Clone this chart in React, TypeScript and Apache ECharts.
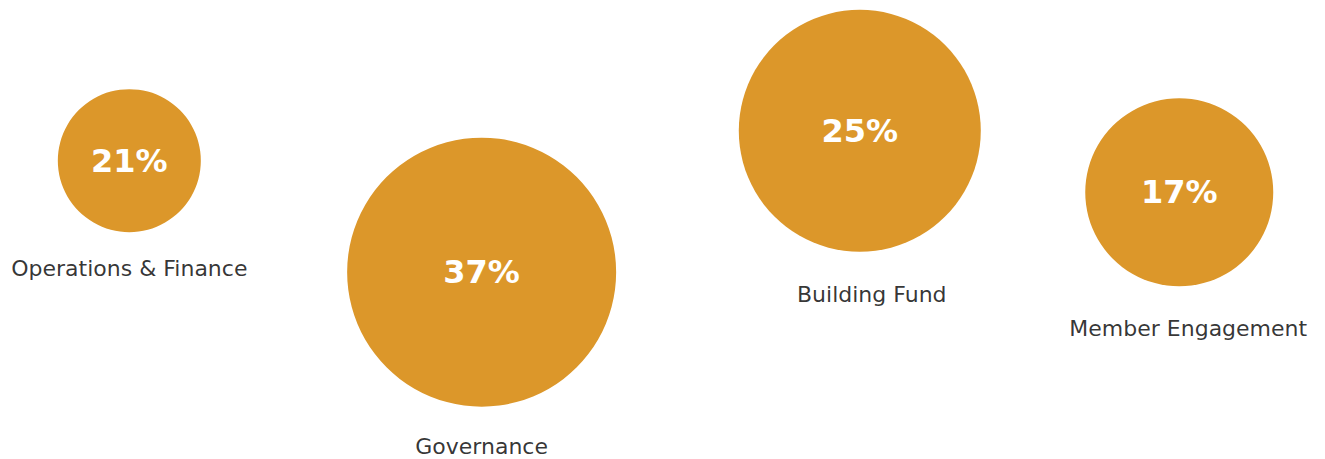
import React, { useEffect, useRef } from "react";
import * as echarts from "echarts";

// Data
const categories = ["Operations & Finance", "Governance", "Building Fund", "Member Engagement"];
const percents = [21, 37, 25, 17];
// bubble placement (abstract units, 0-100 on each axis)
const xPos = [9.76, 36.35, 64.89, 89.0];
const yPos = [65.0, 40.7, 71.5, 58.1];
// bubble weight (drives diameter)
const weights = [14.3, 26.9, 24.2, 18.8];

const GOLD = "#DC972A";
const SIZE_SCALE = 10;
const LABEL_DIST = [28, 32, 35, 34];
const LABEL_SHIFT = [0, 0, 12, 9];

export default function App() {
  const ref = useRef<HTMLDivElement>(null);
  useEffect(() => {
    if (!ref.current) return;
    const chart = echarts.init(ref.current, null, { renderer: "svg" });
    const points = categories.map((c, i) => [xPos[i], yPos[i], weights[i], percents[i], c]);
    chart.setOption({
      animation: false,
      grid: { left: 0, right: 0, top: 0, bottom: 0 },
      xAxis: { type: "value", min: 0, max: 100, show: false },
      yAxis: { type: "value", min: 0, max: 100, show: false },
      series: [
        {
          type: "scatter",
          data: points,
          symbolSize: (v: any) => v[2] * SIZE_SCALE,
          itemStyle: { color: GOLD, opacity: 1 },
          label: {
            show: true,
            position: "inside",
            formatter: (p: any) => p.value[3] + "%",
            color: "#ffffff",
            fontFamily: "DejaVu Sans",
            fontWeight: "bold",
            fontSize: 32,
          },
          emphasis: { disabled: true },
          silent: true,
        },
        {
          type: "scatter",
          data: points.map((p, i) => ({
            value: p,
            label: { distance: LABEL_DIST[i], offset: [LABEL_SHIFT[i], 0] },
          })),
          symbolSize: (v: any) => v[2] * SIZE_SCALE,
          itemStyle: { color: "rgba(0,0,0,0)" },
          label: {
            show: true,
            position: "bottom",
            formatter: (p: any) => p.value[4],
            color: "#000000",
            fontFamily: "DejaVu Sans",
            fontSize: 22,
            lineHeight: 16,
          },
          emphasis: { disabled: true },
          silent: true,
        },
      ],
    });
    return () => chart.dispose();
  }, []);
  return (
    <div
      ref={ref}
      style={{ position: "fixed", left: 0, top: 0, width: 1325, height: 459, background: "#fff" }}
    />
  );
}
